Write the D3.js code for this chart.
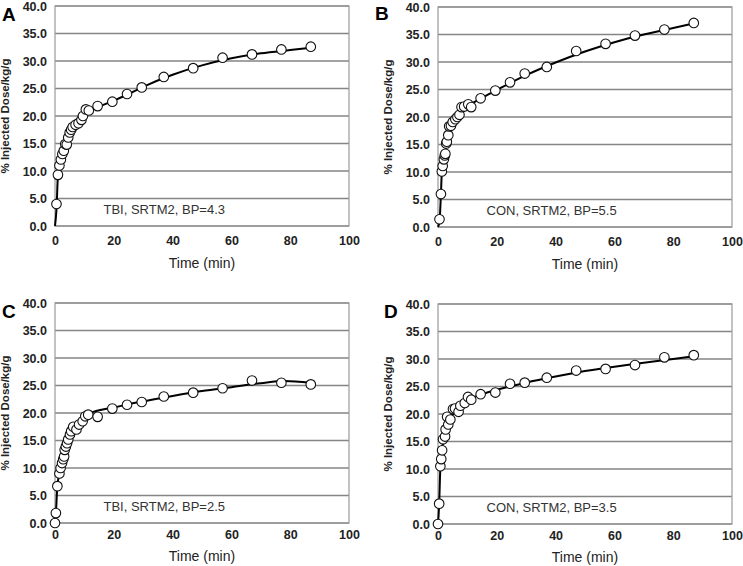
<!DOCTYPE html>
<html>
<head>
<meta charset="utf-8">
<script src="https://cdn.jsdelivr.net/npm/d3@7"></script>
<style>
  html, body { margin: 0; padding: 0; background: #fff; }
  svg { display: block; font-family: "Liberation Sans", Arial, sans-serif; }
</style>
</head>
<body>
<svg id="chart" width="743" height="566"></svg>
<script>
// ---- data ----
const panelLetters = ["A", "B", "C", "D"];
const annotations = ["TBI, SRTM2, BP=4.3", "CON, SRTM2, BP=5.5", "TBI, SRTM2, BP=2.5", "CON, SRTM2, BP=3.5"];
const xTicks = [0, 20, 40, 60, 80, 100];
const yTicks = [0, 5, 10, 15, 20, 25, 30, 35, 40];
const xTitle = "Time (min)";
const yTitle = "% Injected Dose/kg/g";

// Panel A (TBI, BP=4.3)
const timeA  = [0.5,1,1.5,2,2.5,3,3.5,4,4.5,5,5.5,6,7,8,9,9.5,10.5,11.5,14.5,19.5,24.5,29.5,37,47,57,67,77,87];
const valueA = [4.0,9.3,11.0,12.1,13.1,13.7,14.9,14.8,16.1,17.0,17.5,18.0,18.4,18.7,19.3,20.0,21.2,21.0,21.8,22.6,24.0,25.2,27.1,28.7,30.6,31.2,32.1,32.6];
const fitTimeA = [0,0.5,1,1.5,2,3,4,5,6,8,10,12,15,20,25,30,40,50,60,70,80,87];
const fitA     = [0,3.0,9.3,11.0,12.2,14.0,15.4,16.5,17.4,18.8,20.0,20.9,21.7,22.8,24.0,25.3,27.5,29.2,30.5,31.4,32.0,32.4];

// Panel B (CON, BP=5.5)
const timeB  = [0.5,1,1.3,1.6,2,2.3,2.5,2.8,3,3.5,3.8,4.4,5,5.9,6.6,7.3,8,8.9,10.3,11.3,14.5,19.5,24.5,29.5,37,47,57,67,77,87];
const valueB = [1.4,6.0,10.1,11.1,12.3,13.0,13.3,15.2,15.5,16.7,18.3,18.4,19.1,19.6,20.0,20.4,21.8,21.9,22.3,21.8,23.4,24.8,26.3,27.9,29.1,32.0,33.3,34.8,35.9,37.1];
const fitTimeB = [0,0.5,1,1.3,2,3,4,5,7,9,12,15,20,25,30,40,50,60,70,80,87];
const fitB     = [0,1.0,6.0,10.0,12.5,15.0,17.0,18.5,20.3,21.6,22.6,23.5,24.9,26.3,27.6,29.9,31.9,33.6,35.0,36.2,37.0];

// Panel C (TBI, BP=2.5)
const timeC  = [0,0.3,0.8,1.5,1.9,2.4,2.8,3.1,3.3,3.7,4.1,4.5,5.1,5.5,6.2,7.3,8.2,9.4,10.3,11.3,14.5,19.5,24.5,29.5,37,47,57,67,77,87];
const valueC = [0,1.8,6.7,9.0,10.0,10.9,11.6,12.1,13.3,13.9,14.5,15.2,16.1,16.7,17.5,17.0,17.9,18.5,19.4,19.7,19.3,20.8,21.5,22.0,23.0,23.7,24.5,25.9,25.5,25.2];
const fitTimeC = [0,0.3,0.8,1.5,2,3,4,5,6,8,10,12,15,20,25,30,40,50,60,70,78,87];
const fitC     = [0,1.8,6.7,9.0,10.3,12.4,14.2,15.6,16.7,18.3,19.3,20.0,20.5,21.0,21.6,22.1,23.1,24.0,24.7,25.4,25.8,25.5];

// Panel D (CON, BP=3.5)
const timeD  = [0,0.4,0.8,1.1,1.4,1.7,2.4,2.6,3.1,3.5,4.2,5.1,5.8,7.0,7.6,9.1,10.2,11.3,14.5,19.5,24.5,29.5,37,47,57,67,77,87];
const valueD = [0,3.7,10.5,11.8,13.4,15.4,15.9,17.2,19.5,18.1,19.0,20.9,21.0,20.4,21.5,22.0,23.1,22.6,23.6,23.9,25.5,25.7,26.6,27.9,28.2,28.9,30.3,30.7];
const fitTimeD = [0,0.4,0.8,1.5,2.5,3.5,5,7,10,15,20,30,40,50,60,70,80,87];
const fitD     = [0,3.7,10.3,14.0,16.5,18.2,19.8,21.2,22.5,23.6,24.4,25.7,26.8,27.8,28.6,29.3,30.0,30.5];

// ---- layout ----
const plotW = 294, plotH = 220;
const origins = [[55, 6], [438, 7], [55, 303], [438, 304]];
const letterPos = [[2, 21], [375, 20], [2, 318], [384, 318]];
const tickPad = [10, 10, 7, 7];
const titleOff = [42, 42, 38, 38];

const sets = [
  { t: timeA, v: valueA, ft: fitTimeA, fv: fitA },
  { t: timeB, v: valueB, ft: fitTimeB, fv: fitB },
  { t: timeC, v: valueC, ft: fitTimeC, fv: fitC },
  { t: timeD, v: valueD, ft: fitTimeD, fv: fitD }
];

const svg = d3.select("#chart");
const x = d3.scaleLinear().domain([0, 100]).range([0, plotW]);
const y = d3.scaleLinear().domain([0, 40]).range([plotH, 0]);

sets.forEach((s, i) => {
  const [ox, oy] = origins[i];
  const g = svg.append("g").attr("transform", `translate(${ox},${oy})`);

  // horizontal gridlines
  g.append("g").selectAll("line").data(yTicks).join("line")
    .attr("x1", 0).attr("x2", plotW)
    .attr("y1", d => y(d)).attr("y2", d => y(d))
    .attr("stroke", "#858585").attr("stroke-width", 1.5);

  // frame
  g.append("rect").attr("x", 0).attr("y", 0).attr("width", plotW).attr("height", plotH)
    .attr("fill", "none").attr("stroke", "#9a9a9a").attr("stroke-width", 1.2);

  // axes (labels only)
  const yAxis = d3.axisLeft(y).tickValues(yTicks).tickFormat(d3.format(".1f")).tickSize(0).tickPadding(8);
  const ya = g.append("g").call(yAxis);
  ya.select(".domain").remove();
  ya.selectAll("text").attr("font-size", 12.5).attr("font-weight", "bold").attr("fill", "#222")
    .attr("font-family", "'Liberation Sans', Arial, sans-serif");

  const xAxis = d3.axisBottom(x).tickValues(xTicks).tickFormat(d3.format("d")).tickSize(0).tickPadding(tickPad[i]);
  const xa = g.append("g").attr("transform", `translate(0,${plotH})`).call(xAxis);
  xa.select(".domain").remove();
  xa.selectAll("text").attr("font-size", 12.5).attr("font-weight", "bold").attr("fill", "#222")
    .attr("font-family", "'Liberation Sans', Arial, sans-serif");

  // axis titles
  g.append("text").attr("x", plotW / 2).attr("y", plotH + titleOff[i])
    .attr("text-anchor", "middle").attr("font-size", 14).attr("fill", "#222").text(xTitle);
  g.append("text")
    .attr("transform", `translate(${-46},${plotH / 2}) rotate(-90)`)
    .attr("text-anchor", "middle").attr("font-size", 11.5).attr("font-weight", "bold")
    .attr("fill", "#222").text(yTitle);

  // annotation
  g.append("text").attr("x", x(16.5)).attr("y", y(2.2))
    .attr("font-size", 13).attr("fill", "#333").text(annotations[i]);

  // fitted curve
  const fitData = s.ft.map((t, k) => ({ t, v: s.fv[k] }));
  const line = d3.line().x(d => x(d.t)).y(d => y(d.v)).curve(d3.curveMonotoneX);
  g.append("path").datum(fitData).attr("d", line)
    .attr("fill", "none").attr("stroke", "#000").attr("stroke-width", 2);

  // data points
  const pts = s.t.map((t, k) => ({ t, v: s.v[k] }));
  g.append("g").selectAll("circle").data(pts).join("circle")
    .attr("cx", d => x(d.t)).attr("cy", d => y(d.v)).attr("r", 4.8)
    .attr("fill", "#fff").attr("stroke", "#111").attr("stroke-width", 1.1);

  // panel letter
  svg.append("text").attr("x", letterPos[i][0]).attr("y", letterPos[i][1])
    .attr("font-size", 19).attr("font-weight", "bold").attr("fill", "#000").text(panelLetters[i]);
});
</script>
</body>
</html>
